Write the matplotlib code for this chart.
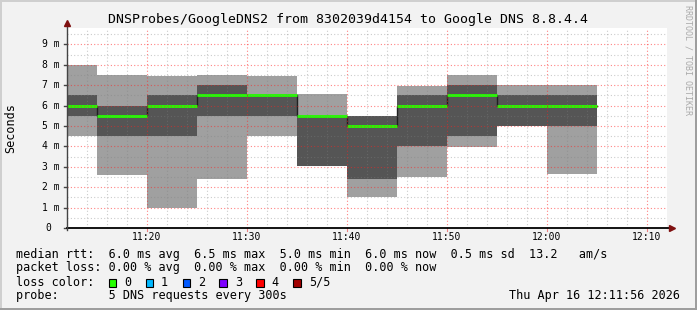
import matplotlib
matplotlib.use('Agg')
import matplotlib.pyplot as plt
from matplotlib.patches import Rectangle

# ── data (ms) ────────────────────────────────────────────────────────────────
bin_edges  = ['11:12', '11:15', '11:20', '11:25', '11:30', '11:35',
              '11:40', '11:45', '11:50', '11:55', '12:00', '12:05']
rtt_min    = [4.50, 2.60, 1.00, 2.40, 4.50, 3.05, 1.50, 2.50, 3.95, 5.00, 2.65]
rtt_q2     = [5.50, 4.50, 4.50, 5.50, 5.50, 3.05, 2.40, 4.00, 4.50, 5.00, 5.00]
rtt_median = [6.00, 5.50, 6.00, 6.50, 6.50, 5.50, 5.00, 6.00, 6.50, 6.00, 6.00]
rtt_q4     = [6.50, 6.00, 6.50, 7.00, 6.50, 5.50, 5.50, 6.50, 7.00, 6.50, 6.50]
rtt_max    = [8.00, 7.50, 7.45, 7.50, 7.45, 6.55, 5.50, 6.95, 7.50, 7.00, 7.00]

x_ticks    = ['11:20', '11:30', '11:40', '11:50', '12:00', '12:10']
y_ticks    = [0, 1, 2, 3, 4, 5, 6, 7, 8, 9]

loss_labels = ['0', '1', '2', '3', '4', '5/5']
loss_colors = ['#26ff00', '#00b8ff', '#0059ff', '#7e00ff', '#ff0000', '#a10000']

title = 'DNSProbes/GoogleDNS2 from 8302039d4154 to Google DNS 8.8.4.4'
legend_rtt  = 'median rtt:  6.0 ms avg  6.5 ms max  5.0 ms min  6.0 ms now  0.5 ms sd  13.2   am/s'
legend_loss = 'packet loss: 0.00 % avg  0.00 % max  0.00 % min  0.00 % now'
legend_probe = 'probe:       5 DNS requests every 300s'
stamp = 'Thu Apr 16 12:11:56 2026'


def _minutes(t):
    h, m = t.split(':')
    return int(h) * 60 + int(m) - 11 * 60


W, H = 697, 310
MONO = 'DejaVu Sans Mono'

fig = plt.figure(figsize=(W / 100, H / 100), dpi=100, facecolor='#f2f2f2')


def ftext(x, y, s, **kw):
    fig.text(x / W, 1 - y / H, s, family=MONO, **kw)


# frame shading
fig.add_artist(Rectangle((0, 1 - 2 / H), 1, 2 / H, transform=fig.transFigure, color='#cfcfcf', lw=0))
fig.add_artist(Rectangle((0, 0), 2 / W, 1, transform=fig.transFigure, color='#cfcfcf', lw=0))
fig.add_artist(Rectangle((0, 0), 1, 2 / H, transform=fig.transFigure, color='#9e9e9e', lw=0))
fig.add_artist(Rectangle((1 - 2 / W, 0), 2 / W, 1, transform=fig.transFigure, color='#9e9e9e', lw=0))

# PLOT AREA
left, right, top, bottom = 67, 667, 27.7, 228
ax = fig.add_axes([left / W, 1 - bottom / H, (right - left) / W, (bottom - top) / H])
ax.set_facecolor('white')
ax.set_xlim(12, 72)
ax.set_ylim(0, 9.82)
for sp in ax.spines.values():
    sp.set_visible(False)
ax.set_xticks([])
ax.set_yticks([])

edges = [_minutes(t) for t in bin_edges]
starts = edges[:-1]
widths = [b - a for a, b in zip(edges[:-1], edges[1:])]

# smoke
ax.bar(starts, [hi - lo for lo, hi in zip(rtt_min, rtt_max)], bottom=rtt_min,
       width=widths, align='edge', color='#a0a0a0', lw=0, zorder=2)
ax.bar(starts, [hi - lo for lo, hi in zip(rtt_q2, rtt_q4)], bottom=rtt_q2,
       width=widths, align='edge', color='#555555', lw=0, zorder=3)

# median line
ax.step(edges, rtt_median + [rtt_median[-1]], where='post', color='#202020', lw=1, zorder=4)
ax.hlines(rtt_median, starts, edges[1:], color='#26ff00', lw=2.0, zorder=5)

# grid on top (rrdtool style, alpha blended)
for m in range(14, 72, 2):
    if m % 10:
        ax.axvline(m, color='#808080', lw=0.8, ls=(0, (1, 2)), alpha=0.4, zorder=6)
for v in [y + 0.5 for y in y_ticks]:
    ax.axhline(v, color='#808080', lw=0.8, ls=(0, (1, 2)), alpha=0.4, zorder=6)
for t in x_ticks:
    ax.axvline(_minutes(t), color='#ff2020', lw=0.8, ls=(0, (1, 2)), alpha=0.55, zorder=6)
for y in y_ticks[1:]:
    ax.axhline(y, color='#ff2020', lw=0.8, ls=(0, (1, 2)), alpha=0.55, zorder=6)

# axes + arrows
ax.plot([0, 1.006], [0, 0], transform=ax.transAxes, color='black', lw=1.3, clip_on=False, zorder=8)
ax.plot([0, 0], [-0.01, 1.025], transform=ax.transAxes, color='#444444', lw=1, clip_on=False, zorder=8)
ax.plot([1.008], [0], transform=ax.transAxes, marker='>', ms=4, color='#7f1010', clip_on=False, zorder=9)
ax.plot([0], [1.025], transform=ax.transAxes, marker='^', ms=4, color='#7f1010', clip_on=False, zorder=9)

# tick labels
for y in y_ticks:
    py = bottom - y * (bottom - top) / 9.82
    ax.plot([-3 / 600, 0], [y / 9.82] * 2, transform=ax.transAxes, color='#444444', lw=1, clip_on=False)
    if y == 0:
        ftext(45, py, '0', fontsize=7, va='center', ha='left')
    else:
        ftext(60, py, f'{y} m', fontsize=7, va='center', ha='right')
for t in x_ticks:
    px = left + (_minutes(t) - 12) * 10
    ax.plot([(px - left) / 600] * 2, [-3 / 200, 0], transform=ax.transAxes, color='#f08080', lw=0.8, clip_on=False)
    ftext(px, 237.5, t, fontsize=7, va='center', ha='center')

# titles
ftext(348, 19, title, fontsize=9.5, va='center', ha='center')
ftext(10.5, 128, 'Seconds', fontsize=8.5, va='center', ha='center', rotation=90)
ftext(688, 60, 'RRDTOOL / TOBI OETIKER', fontsize=6, va='center', ha='center',
      rotation=270, color='#aaaaaa')

# LEGEND
ftext(16, 254.7, legend_rtt, fontsize=8.5, va='center')
ftext(16, 268, legend_loss, fontsize=8.5, va='center')
ftext(16, 282.3, 'loss color:', fontsize=8.5, va='center')
for i, (lab, col) in enumerate(zip(loss_labels, loss_colors)):
    sx = 108.7 + i * 36.9
    fig.add_artist(Rectangle((sx / W, 1 - 286.5 / H), 7.5 / W, 7.5 / H,
                             transform=fig.transFigure, facecolor=col,
                             edgecolor='black', lw=0.8))
    ftext(sx + 15.5, 282.3, lab, fontsize=8.5, va='center')
ftext(16, 295.7, legend_probe, fontsize=8.5, va='center')
ftext(680, 295.7, stamp, fontsize=8.5, va='center', ha='right')

fig.savefig('out.png', dpi=100, facecolor=fig.get_facecolor())
